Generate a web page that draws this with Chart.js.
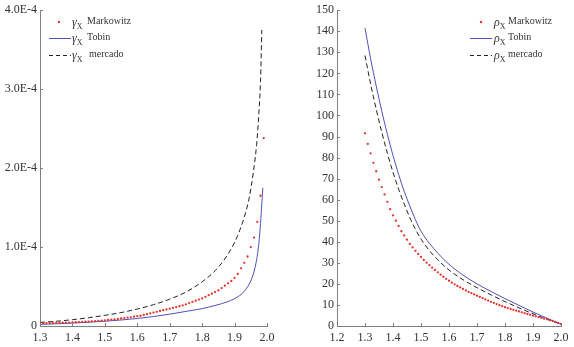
<!DOCTYPE html>
<html>
<head>
<meta charset="utf-8">
<script src="https://cdn.jsdelivr.net/npm/chart.js@4.4.0/dist/chart.umd.min.js"></script>
<style>
  body { margin: 0; background: #fff; }
  #wrap { position: relative; width: 574px; height: 347px; }
  #leftBox { position: absolute; left: 0; top: 0; }
  #rightBox { position: absolute; left: 288px; top: 0; }
</style>
</head>
<body>
<div id="wrap">
  <div id="leftBox"><canvas id="gammaChart" width="288" height="347"></canvas></div>
  <div id="rightBox"><canvas id="rhoChart" width="286" height="347"></canvas></div>
</div>
<script>
// Left panel: gamma_X (values in units of 1E-4)
const gammaX = [1.30, 1.31, 1.32, 1.33, 1.34, 1.35, 1.36, 1.37, 1.38, 1.39,
  1.40, 1.41, 1.42, 1.43, 1.44, 1.45, 1.46, 1.47, 1.48, 1.49,
  1.50, 1.51, 1.52, 1.53, 1.54, 1.55, 1.56, 1.57, 1.58, 1.59,
  1.60, 1.61, 1.62, 1.63, 1.64, 1.65, 1.66, 1.67, 1.68, 1.69,
  1.70, 1.71, 1.72, 1.73, 1.74, 1.75, 1.76, 1.77, 1.78, 1.79,
  1.80, 1.81, 1.82, 1.83, 1.84, 1.85, 1.86, 1.87, 1.88, 1.89,
  1.90, 1.91, 1.92, 1.93, 1.94, 1.95, 1.96, 1.97, 1.98, 1.99];
const gammaMarkowitz = [0.035, 0.036, 0.037, 0.038, 0.039, 0.040, 0.041, 0.042, 0.043, 0.044,
  0.046, 0.048, 0.050, 0.052, 0.054, 0.056, 0.059, 0.062, 0.065, 0.068,
  0.072, 0.076, 0.080, 0.085, 0.090, 0.095, 0.100, 0.105, 0.110, 0.118,
  0.125, 0.13, 0.14, 0.15, 0.16, 0.17, 0.18, 0.19, 0.20, 0.21,
  0.22, 0.23, 0.24, 0.25, 0.26, 0.275, 0.29, 0.305, 0.32, 0.335,
  0.35, 0.37, 0.39, 0.41, 0.43, 0.45, 0.48, 0.51, 0.54, 0.57,
  0.61, 0.66, 0.73, 0.80, 0.88, 1.00, 1.12, 1.32, 1.65, 2.38];
const gammaTobinX = [1.30, 1.35, 1.40, 1.45, 1.50, 1.55, 1.60, 1.65, 1.70, 1.75, 1.80, 1.84,
  1.88, 1.91, 1.93, 1.945, 1.958, 1.968, 1.975, 1.98, 1.984, 1.987];
const gammaTobin = [0.02, 0.028, 0.037, 0.048, 0.06, 0.076, 0.095, 0.12, 0.15, 0.185, 0.22, 0.26,
  0.31, 0.37, 0.44, 0.53, 0.66, 0.84, 1.05, 1.30, 1.55, 1.75];
const gammaMercadoX = [1.30, 1.35, 1.40, 1.45, 1.50, 1.55, 1.60, 1.65, 1.70, 1.75, 1.80,
  1.84, 1.87, 1.89, 1.91, 1.93, 1.945, 1.958, 1.968, 1.975, 1.98, 1.984];
const gammaMercado = [0.045, 0.06, 0.08, 0.105, 0.135, 0.17, 0.215, 0.27, 0.34, 0.43, 0.56,
  0.70, 0.85, 0.98, 1.15, 1.38, 1.62, 1.95, 2.3, 2.7, 3.1, 3.75];
const gammaTickLabels = ["0", "1.0E-4", "2.0E-4", "3.0E-4", "4.0E-4"];

// Right panel: rho_X
const rhoX = [1.30, 1.31, 1.32, 1.33, 1.34, 1.35, 1.36, 1.37, 1.38, 1.39,
  1.40, 1.41, 1.42, 1.43, 1.44, 1.45, 1.46, 1.47, 1.48, 1.49,
  1.50, 1.51, 1.52, 1.53, 1.54, 1.55, 1.56, 1.57, 1.58, 1.59,
  1.60, 1.61, 1.62, 1.63, 1.64, 1.65, 1.66, 1.67, 1.68, 1.69,
  1.70, 1.71, 1.72, 1.73, 1.74, 1.75, 1.76, 1.77, 1.78, 1.79,
  1.80, 1.81, 1.82, 1.83, 1.84, 1.85, 1.86, 1.87, 1.88, 1.89,
  1.90, 1.91, 1.92, 1.93, 1.94, 1.95, 1.96, 1.97, 1.98, 1.99, 2.00];
const rhoMarkowitz = [91.5, 86.5, 82, 77.5, 73.5, 69.5, 66, 62.5, 59, 55.5,
  52.5, 50, 47.5, 45, 43, 41, 39, 37.3, 35.7, 34.2,
  32.8, 31.4, 30.1, 28.9, 27.7, 26.6, 25.5, 24.4, 23.4, 22.4,
  21.5, 20.6, 19.8, 19, 18.3, 17.6, 16.9, 16.2, 15.6, 15,
  14.4, 13.8, 13.2, 12.6, 12.1, 11.5, 11, 10.4, 9.9, 9.4,
  8.9, 8.5, 8.1, 7.7, 7.3, 6.9, 6.5, 6.1, 5.7, 5.3,
  4.9, 4.6, 4.2, 3.9, 3.5, 3.2, 2.8, 2.4, 2.0, 1.5, 1.0];
const rhoLineX = [1.30, 1.32, 1.34, 1.36, 1.38, 1.40, 1.42, 1.44, 1.46, 1.48, 1.50,
  1.53, 1.56, 1.60, 1.65, 1.70, 1.75, 1.80, 1.85, 1.90, 1.95, 2.00];
const rhoTobin = [141.5, 127, 114, 102, 91, 81, 72, 64, 57, 50.5, 45,
  39.3, 34.6, 29.3, 24.2, 20, 16.4, 13, 9.8, 6.6, 3.7, 0.8];
const rhoMercado = [128.5, 115, 103, 92, 82, 73, 65, 58, 51.5, 46, 41.3,
  35.8, 31.4, 26.6, 22, 18.2, 14.8, 11.6, 8.6, 5.8, 3.2, 0.8];

const RED = '#e3342b';
const BLUE = '#5050b8';
const BLACK = '#222';
const AXIS = '#808080';
const TEXT = '#333';
const FONT = '"Liberation Serif", "DejaVu Serif", serif';

function pts(xs, ys) {
  return xs.map((x, i) => ({ x: x, y: ys[i] }));
}

// tick marks drawn pointing into the plot
const inwardTicks = {
  id: 'inwardTicks',
  afterDraw(chart) {
    const { ctx, chartArea: a, scales: { x, y } } = chart;
    ctx.save();
    ctx.strokeStyle = AXIS;
    ctx.lineWidth = 1;
    x.ticks.forEach(t => {
      const px = Math.round(x.getPixelForValue(t.value)) + 0.5;
      ctx.beginPath(); ctx.moveTo(px, a.bottom); ctx.lineTo(px, a.bottom - 3); ctx.stroke();
    });
    y.ticks.forEach(t => {
      const py = Math.round(y.getPixelForValue(t.value)) + 0.5;
      ctx.beginPath(); ctx.moveTo(a.left, py); ctx.lineTo(a.left + 3, py); ctx.stroke();
    });
    ctx.restore();
  }
};

const legendRows = [
  { kind: 'dot', label: 'Markowitz' },
  { kind: 'line', label: 'Tobin' },
  { kind: 'dash', label: 'mercado' }
];

// legend with subscripted symbol, drawn on the canvas
function makeLegend(o) {
  return {
    id: 'subLegend',
    afterDraw(chart) {
      const ctx = chart.ctx;
      ctx.save();
      ctx.textBaseline = 'alphabetic';
      legendRows.forEach((r, i) => {
        const y = o.y[i];
        if (r.kind === 'dot') {
          ctx.fillStyle = RED;
          ctx.beginPath(); ctx.arc(o.dotX, y, 1.2, 0, Math.PI * 2); ctx.fill();
        } else {
          ctx.strokeStyle = r.kind === 'line' ? BLUE : BLACK;
          ctx.setLineDash(r.kind === 'line' ? [] : [4, 3]);
          ctx.lineWidth = 1;
          ctx.beginPath(); ctx.moveTo(o.lineX0, y + 0.5); ctx.lineTo(o.lineX1, y + 0.5); ctx.stroke();
          ctx.setLineDash([]);
        }
        ctx.fillStyle = TEXT;
        ctx.font = 'italic 12px ' + FONT;
        ctx.fillText(o.greek, o.textX, y + 4);
        const gw = ctx.measureText(o.greek).width;
        ctx.font = '8px ' + FONT;
        ctx.fillText('X', o.textX + gw, y + 7);
        ctx.font = '10px ' + FONT;
        ctx.fillText(r.label, o.labelX + (i === 2 ? o.lastShift : 0), y + 2);
      });
      ctx.restore();
    }
  };
}

function axisCommon() {
  return {
    type: 'linear',
    grid: { display: true, drawOnChartArea: false, drawTicks: false },
    border: { display: true, color: AXIS, width: 1 }
  };
}

function makeConfig(datasets, xr, yr, yLabel, yWidth, pad, legend) {
  return {
    type: 'scatter',
    data: { datasets: datasets },
    options: {
      responsive: false,
      animation: false,
      layout: { padding: pad },
      plugins: {
        legend: { display: false },
        tooltip: { enabled: false }
      },
      scales: {
        x: Object.assign(axisCommon(), {
          min: xr[0], max: xr[1],
          afterFit(s) { s.height = 21; },
          ticks: { stepSize: 0.1, padding: 5, color: TEXT, font: { family: FONT, size: 12 },
            callback: v => v.toFixed(1) }
        }),
        y: Object.assign(axisCommon(), {
          min: yr[0], max: yr[1],
          afterFit(s) { s.width = yWidth; },
          ticks: { stepSize: yr[2], padding: 3, color: TEXT, font: { family: FONT, size: 12 },
            callback: yLabel }
        })
      }
    },
    plugins: [inwardTicks, legend]
  };
}

function series(markX, markY, tobX, tobY, merX, merY) {
  return [
    { label: 'Markowitz', data: pts(markX, markY), showLine: false,
      pointRadius: 1.15, pointBackgroundColor: RED, pointBorderWidth: 0 },
    { label: 'Tobin', data: pts(tobX, tobY), showLine: true, borderColor: BLUE, borderWidth: 1,
      pointRadius: 0, cubicInterpolationMode: 'monotone' },
    { label: 'mercado', data: pts(merX, merY), showLine: true, borderColor: BLACK, borderWidth: 1,
      borderDash: [5, 3], pointRadius: 0, cubicInterpolationMode: 'monotone' }
  ];
}

window.addEventListener('DOMContentLoaded', () => {
  new Chart(document.getElementById('gammaChart'), makeConfig(
    series(gammaX, gammaMarkowitz, gammaTobinX, gammaTobin, gammaMercadoX, gammaMercado),
    [1.3, 2.0], [0, 4, 1],
    (v) => gammaTickLabels[Math.round(v)],
    40, { top: 7, right: 21, left: 0, bottom: 0 },
    makeLegend({ y: [22, 38, 55], dotX: 59, lineX0: 49, lineX1: 71, textX: 72, labelX: 87, lastShift: 2, greek: 'γ' })
  ));
  new Chart(document.getElementById('rhoChart'), makeConfig(
    series(rhoX, rhoMarkowitz, rhoLineX, rhoTobin, rhoLineX, rhoMercado),
    [1.2, 2.0], [0, 150, 10],
    (v) => String(v),
    49, { top: 8, right: 13, left: 0, bottom: 0 },
    makeLegend({ y: [22, 38, 55], dotX: 193, lineX0: 182, lineX1: 204, textX: 206, labelX: 220, lastShift: 0, greek: 'ρ' })
  ));
});
</script>
</body>
</html>
